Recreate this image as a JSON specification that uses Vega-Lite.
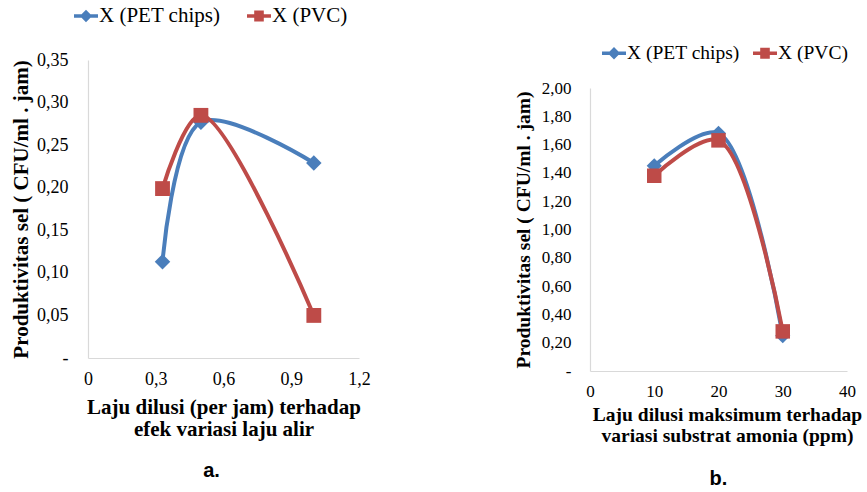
{
  "$schema": "https://vega.github.io/schema/vega-lite/v6.json",
  "padding": {"left": 10, "top": 4, "right": 0, "bottom": 0},
  "background": "white",
  "config": {
    "view": {"stroke": null},
    "axis": {
      "domainColor": "#d9d9d9", "domainWidth": 1.2, "ticks": false, "grid": false,
      "labelFont": "'Liberation Serif', 'Times New Roman', serif", "labelColor": "#000", "labelFontSize": 18,
      "titleFont": "'Liberation Serif', 'Times New Roman', serif", "titleFontWeight": "bold", "titleColor": "#000",
      "labelOverlap": false, "labelBound": false, "labelFlush": false
    },
    "legend": {
      "direction": "horizontal", "labelFont": "'Liberation Serif', 'Times New Roman', serif",
      "labelColor": "#000", "symbolSize": 576, "labelOffset": 1, "labelLimit": 300
    },
    "title": {"font": "'Liberation Sans', Arial, sans-serif", "fontWeight": "bold", "fontSize": 20, "color": "#000"}
  },
  "datasets": {
    "a": [
      {"series": "X (PET chips)", "x": 0.33, "y": 0.113},
      {"series": "X (PET chips)", "x": 0.5, "y": 0.277},
      {"series": "X (PET chips)", "x": 1.0, "y": 0.229},
      {"series": "X (PVC)", "x": 0.33, "y": 0.199},
      {"series": "X (PVC)", "x": 0.5, "y": 0.285},
      {"series": "X (PVC)", "x": 1.0, "y": 0.05}
    ],
    "b": [
      {"series": "X (PET chips)", "x": 10, "y": 1.45},
      {"series": "X (PET chips)", "x": 20, "y": 1.68},
      {"series": "X (PET chips)", "x": 30, "y": 0.25},
      {"series": "X (PVC)", "x": 10, "y": 1.38},
      {"series": "X (PVC)", "x": 20, "y": 1.63},
      {"series": "X (PVC)", "x": 30, "y": 0.28}
    ]
  },
  "spacing": 142,
  "resolve": {"scale": {"color": "independent"}, "legend": {"color": "independent"}},
  "hconcat": [
    {
      "width": 271, "height": 298,
      "data": {"name": "a"},
      "title": {"text": "a.", "orient": "bottom", "anchor": "middle", "offset": 22, "dx": -12},
      "encoding": {
        "x": {"field": "x", "type": "quantitative", "scale": {"domain": [0, 1.2], "nice": false},
          "axis": {"values": [0, 0.3, 0.6, 0.9, 1.2], "labelPadding": 12,
            "labelExpr": "datum.value === 0 ? '0' : replace(format(datum.value, '.1f'), '.', ',')",
            "title": ["Laju dilusi (per jam) terhadap", "efek variasi laju alir"],
            "titleFontSize": 21, "titleLineHeight": 22, "titlePadding": 8}},
        "y": {"field": "y", "type": "quantitative", "scale": {"domain": [0, 0.35], "nice": false},
          "axis": {"values": [0, 0.05, 0.1, 0.15, 0.2, 0.25, 0.3, 0.35], "labelPadding": 20,
            "labelExpr": "datum.value === 0 ? '-' : replace(format(datum.value, '.2f'), '.', ',')",
            "title": "Produktivitas sel ( CFU/ml . jam)", "titleFontSize": 21, "titlePadding": 5}},
        "color": {"field": "series", "type": "nominal",
          "scale": {"domain": ["X (PET chips)", "X (PVC)"], "range": ["#4A7EBB", "#BE4B48"]},
          "legend": {"title": null, "orient": "none", "legendX": -14, "legendY": -56,
            "labelFontSize": 21, "columnPadding": 26,
            "encode": {"symbols": {"update": {
              "shape": {"signal": "datum.value === 'X (PET chips)' ? 'M-1,-0.15L-0.37,-0.15L0,-0.52L0.37,-0.15L1,-0.15L1,0.15L0.37,0.15L0,0.52L-0.37,0.15L-1,0.15Z' : 'M-1,-0.15L-0.4,-0.15L-0.4,-0.45L0.4,-0.45L0.4,-0.15L1,-0.15L1,0.15L0.4,0.15L0.4,0.45L-0.4,0.45L-0.4,0.15L-1,0.15Z'"},
              "fill": {"signal": "datum.value === 'X (PET chips)' ? '#4A7EBB' : '#BE4B48'"},
              "stroke": {"value": "transparent"},
              "strokeWidth": {"value": 0},
              "size": {"value": 576},
              "opacity": {"value": 1}
            }}}}}
      },
      "layer": [
        {"mark": {"type": "line", "interpolate": "catmull-rom", "strokeWidth": 4}},
        {"transform": [{"filter": "datum.series === 'X (PET chips)'"}],
          "mark": {"type": "point", "filled": true, "opacity": 1, "size": 240, "shape": "diamond"}},
        {"transform": [{"filter": "datum.series === 'X (PVC)'"}],
          "mark": {"type": "point", "filled": true, "opacity": 1, "size": 220, "shape": "square"}}
      ]
    },
    {
      "width": 257, "height": 311,
      "data": {"name": "b"},
      "title": {"text": "b.", "orient": "bottom", "anchor": "middle", "offset": 24},
      "encoding": {
        "x": {"field": "x", "type": "quantitative", "scale": {"domain": [0, 40], "nice": false},
          "axis": {"values": [0, 10, 20, 30, 40], "labelPadding": 12, "labelFontSize": 17,
            "title": ["Laju dilusi maksimum terhadap", "variasi substrat amonia (ppm)"],
            "titleFontSize": 19.5, "titleLineHeight": 21, "titlePadding": 6, "titleX": 137}},
        "y": {"field": "y", "type": "quantitative", "scale": {"domain": [0, 2], "nice": false, "range": [311, 28]},
          "axis": {"values": [0, 0.2, 0.4, 0.6, 0.8, 1, 1.2, 1.4, 1.6, 1.8, 2], "labelPadding": 19, "labelFontSize": 17,
            "labelExpr": "datum.value === 0 ? '-' : replace(format(datum.value, '.2f'), '.', ',')",
            "title": "Produktivitas sel ( CFU/ml . jam)", "titleFontSize": 19.5, "titlePadding": 8}},
        "color": {"field": "series", "type": "nominal",
          "scale": {"domain": ["X (PET chips)", "X (PVC)"], "range": ["#4A7EBB", "#BE4B48"]},
          "legend": {"title": null, "orient": "none", "legendX": 12, "legendY": -19,
            "labelFontSize": 19.5, "columnPadding": 13,
            "encode": {"symbols": {"update": {
              "shape": {"signal": "datum.value === 'X (PET chips)' ? 'M-1,-0.15L-0.37,-0.15L0,-0.52L0.37,-0.15L1,-0.15L1,0.15L0.37,0.15L0,0.52L-0.37,0.15L-1,0.15Z' : 'M-1,-0.15L-0.4,-0.15L-0.4,-0.45L0.4,-0.45L0.4,-0.15L1,-0.15L1,0.15L0.4,0.15L0.4,0.45L-0.4,0.45L-0.4,0.15L-1,0.15Z'"},
              "fill": {"signal": "datum.value === 'X (PET chips)' ? '#4A7EBB' : '#BE4B48'"},
              "stroke": {"value": "transparent"},
              "strokeWidth": {"value": 0},
              "size": {"value": 576},
              "opacity": {"value": 1}
            }}}}}
      },
      "layer": [
        {"mark": {"type": "line", "interpolate": "catmull-rom", "strokeWidth": 4}},
        {"transform": [{"filter": "datum.series === 'X (PET chips)'"}],
          "mark": {"type": "point", "filled": true, "opacity": 1, "size": 230, "shape": "diamond"}},
        {"transform": [{"filter": "datum.series === 'X (PVC)'"}],
          "mark": {"type": "point", "filled": true, "opacity": 1, "size": 210, "shape": "square"}}
      ]
    }
  ]
}
